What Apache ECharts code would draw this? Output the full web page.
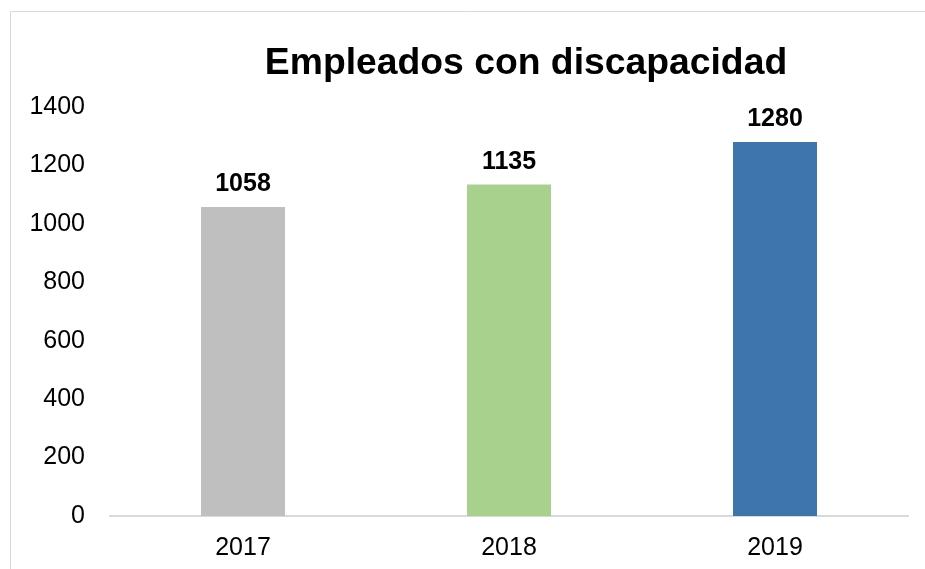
<!DOCTYPE html>
<html>
<head>
<meta charset="utf-8">
<script src="https://cdn.jsdelivr.net/npm/echarts@6/dist/echarts.min.js"></script>
<style>
  html, body { margin: 0; padding: 0; background: #fff; }
  #chart { width: 925px; height: 569px; }
</style>
</head>
<body>
<div id="chart"></div>
<script>
const years = ['2017', '2018', '2019']
const empleados = [1058, 1135, 1280]
const barColors = ['#BFBFBF', '#A9D18E', '#3E75AD']
const yTicks = [0, 200, 400, 600, 800, 1000, 1200, 1400]

const font = '"Liberation Sans", Arial, sans-serif'

const chart = echarts.init(document.getElementById('chart'))
const option = {
  animation: false,
  title: {
    text: 'Empleados con discapacidad',
    left: 521,
    top: 40,
    textAlign: 'center',
    textStyle: {
      color: '#000',
      fontFamily: font,
      fontWeight: 'bold',
      fontSize: 37.3,
    },
  },
  graphic: [
    {
      type: 'rect',
      shape: { x: 10.5, y: 11.5, width: 1000, height: 1000 },
      style: { fill: 'none', stroke: '#D9D9D9', lineWidth: 1 },
      silent: true,
    },
  ],
  grid: {
    left: 110,
    right: 17,
    top: 107,
    bottom: 53,
  },
  xAxis: {
    type: 'category',
    data: years,
    axisLine: {
      lineStyle: { color: '#D9D9D9', width: 2 },
    },
    axisTick: { show: false },
    axisLabel: {
      color: '#000',
      fontFamily: font,
      fontSize: 25,
      margin: 20,
    },
  },
  yAxis: {
    type: 'value',
    min: yTicks[0],
    max: yTicks[yTicks.length - 1],
    interval: 200,
    axisLine: { show: false },
    axisTick: { show: false },
    splitLine: { show: false },
    axisLabel: {
      color: '#000',
      fontFamily: font,
      fontSize: 25,
      margin: 25,
      formatter: (v) => String(v),
    },
  },
  series: [
    {
      name: 'Empleados',
      type: 'bar',
      barWidth: 84,
      data: empleados.map((v, i) => ({
        value: v,
        itemStyle: { color: barColors[i] },
      })),
      label: {
        show: true,
        position: 'top',
        distance: 10,
        color: '#000',
        fontFamily: font,
        fontWeight: 'bold',
        fontSize: 25,
      },
    },
  ],
}
chart.setOption(option)
</script>
</body>
</html>
